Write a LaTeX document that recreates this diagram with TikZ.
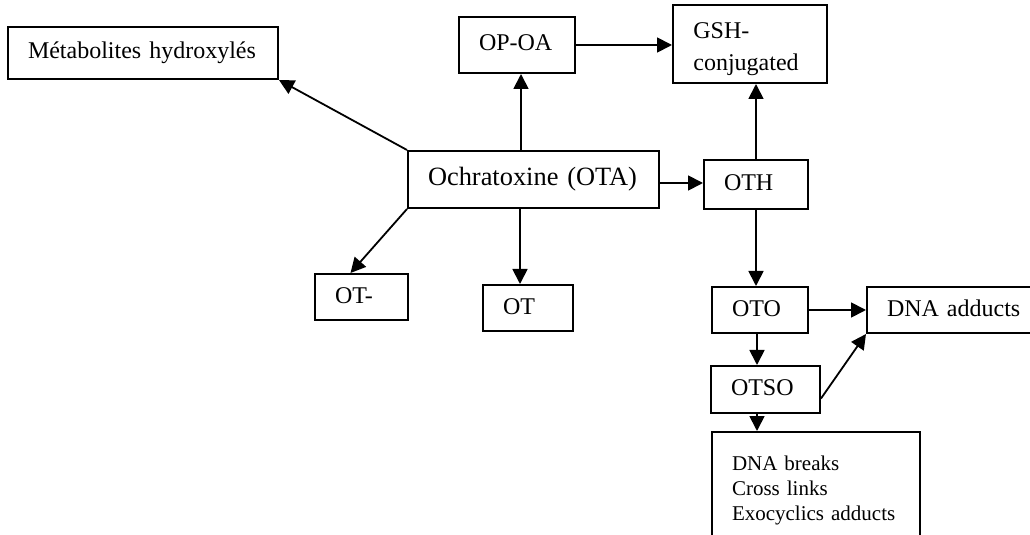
\documentclass[tikz,border=0pt]{standalone}
\usepackage{fontspec}
\setmainfont{Liberation Serif}
\usetikzlibrary{arrows.meta}
\newlength{\px}\setlength{\px}{0.5pt}
\begin{document}
\begin{tikzpicture}[x=0.5pt,y=-0.5pt,
  boxbase/.style={draw, line width=1pt, rectangle, inner xsep=10pt, inner ysep=0pt, align=left},
  box/.style={boxbase, font=\fontsize{12}{14}\selectfont, text height=0.68em, text depth=0.04em},
  arr/.style={line width=0.9pt, -{Triangle[length=7.5pt,width=7.5pt]}}]
\useasboundingbox (0,0) rectangle (1030,535);
\clip (0,0) rectangle (1030,535);
% boxes
\node[box, text width=230\px, minimum height=52\px, text depth=0.12em] (met) at (143,53) {\mbox{Métabolites hydroxylés}};
\node[box, text width=76\px, minimum height=56\px, text depth=0.12em] (opoa) at (517,45) {\mbox{OP-OA}};
\node[box, minimum width=154\px, minimum height=78\px] (gsh) at (750,44) {};
\node[anchor=north west, inner sep=0pt, align=left, font=\fontsize{12}{16}\selectfont] (gshtext) at (693,21.8) {GSH-\\conjugated};
\node[box, text width=211\px, minimum height=57\px, font=\fontsize{13.2}{15}\selectfont] (ota) at (533.5,179.5) {\mbox{Ochratoxine (OTA)}};
\node[box, text width=64\px, minimum height=49\px] (oth) at (756,184.5) {OTH};
\node[box, text width=53\px, minimum height=46\px] (otm) at (361.5,297) {OT-};
\node[box, text width=50\px, minimum height=46\px] (ot) at (528,308) {OT};
\node[box, text width=56\px, minimum height=46\px] (oto) at (760,310) {OTO};
\node[box, text width=133\px, minimum height=46\px] (dna) at (953.5,310) {\mbox{DNA adducts}};
\node[box, text width=69\px, minimum height=47\px] (otso) at (765.5,389.5) {OTSO};
\node[boxbase, text width=168\px, minimum height=116.2\px, font=\fontsize{10.5}{12.5}\selectfont] (eff) at (816,490.1) {DNA breaks\\Cross links\\Exocyclics adducts};
% helper coordinates
\coordinate (opin) at ([shift={(4,0)}]opoa.south);
\coordinate (otin) at ([shift={(-8,0)}]ot.north);
\coordinate (otmin) at ([shift={(-11,0)}]otm.north);
\coordinate (oso) at ([shift={(-3,0)}]oto.south);
\coordinate (otsoout) at ([shift={(0,9)}]otso.east);
\coordinate (othin) at ([shift={(0,-1.5)}]oth.west);
% connectors
\draw[arr] (ota.north west) -- (met.south east);
\draw[arr] (opin |- ota.north) -- (opin);
\draw[arr] (otin |- ota.south) -- (otin);
\draw[arr] (ota.south west) -- (otmin);
\draw[arr] (othin -| ota.east) -- (othin);
\draw[arr] (oth.north) -- (oth.north |- gsh.south);
\draw[arr] (opoa.east) -- (opoa.east -| gsh.west);
\draw[arr] (oth.south) -- (oth.south |- oto.north);
\draw[arr] (oto.east) -- (dna.west);
\draw[arr] (oso) -- (oso |- otso.north);
\draw[arr] (otsoout) -- (dna.south west);
\draw[arr] (oso |- otso.south) -- (oso |- eff.north);
\end{tikzpicture}
\end{document}
